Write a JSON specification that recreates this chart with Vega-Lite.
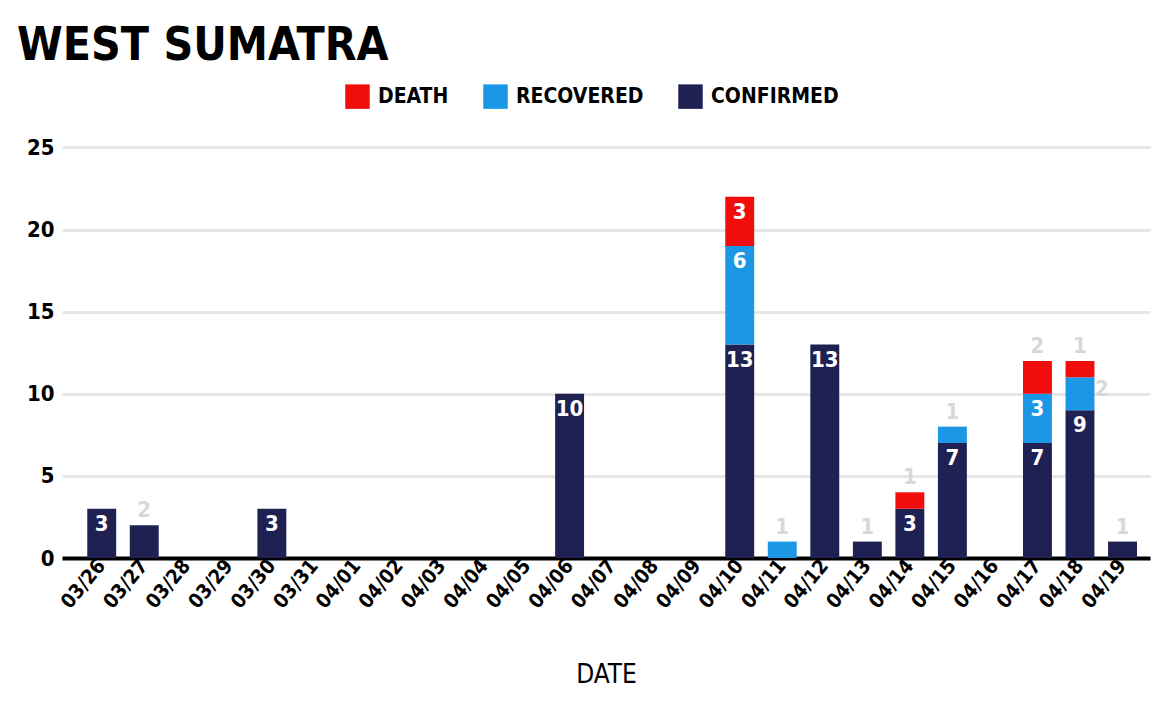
{
  "$schema": "https://vega.github.io/schema/vega-lite/v6.json",
  "width": 1088,
  "height": 427,
  "autosize": {"type": "none"},
  "padding": {"left": 62, "top": 131, "right": 2, "bottom": 148},
  "background": "white",
  "title": {
    "text": "WEST SUMATRA",
    "anchor": "start",
    "frame": "group",
    "font": "'DejaVu Sans Condensed', sans-serif",
    "fontSize": 46,
    "fontWeight": "bold",
    "color": "#000000",
    "dx": -45,
    "offset": 14
  },
  "data": {
    "values": [
      {"date": "03/26", "category": "CONFIRMED", "k": 1, "value": 3},
      {"date": "03/27", "category": "CONFIRMED", "k": 1, "value": 2},
      {"date": "03/30", "category": "CONFIRMED", "k": 1, "value": 3},
      {"date": "04/06", "category": "CONFIRMED", "k": 1, "value": 10},
      {"date": "04/10", "category": "CONFIRMED", "k": 1, "value": 13},
      {"date": "04/10", "category": "RECOVERED", "k": 2, "value": 6},
      {"date": "04/10", "category": "DEATH", "k": 3, "value": 3},
      {"date": "04/11", "category": "RECOVERED", "k": 2, "value": 1},
      {"date": "04/12", "category": "CONFIRMED", "k": 1, "value": 13},
      {"date": "04/13", "category": "CONFIRMED", "k": 1, "value": 1},
      {"date": "04/14", "category": "CONFIRMED", "k": 1, "value": 3},
      {"date": "04/14", "category": "DEATH", "k": 3, "value": 1},
      {"date": "04/15", "category": "CONFIRMED", "k": 1, "value": 7},
      {"date": "04/15", "category": "RECOVERED", "k": 2, "value": 1},
      {"date": "04/17", "category": "CONFIRMED", "k": 1, "value": 7},
      {"date": "04/17", "category": "RECOVERED", "k": 2, "value": 3},
      {"date": "04/17", "category": "DEATH", "k": 3, "value": 2},
      {"date": "04/18", "category": "CONFIRMED", "k": 1, "value": 9},
      {"date": "04/18", "category": "RECOVERED", "k": 2, "value": 2},
      {"date": "04/18", "category": "DEATH", "k": 3, "value": 1},
      {"date": "04/19", "category": "CONFIRMED", "k": 1, "value": 1}
    ]
  },
  "transform": [
    {"stack": "value", "groupby": ["date"], "sort": [{"field": "k", "order": "ascending"}], "as": ["y0", "y1"]}
  ],
  "encoding": {
    "x": {
      "field": "date",
      "type": "nominal",
      "scale": {
        "domain": ["03/26","03/27","03/28","03/29","03/30","03/31","04/01","04/02","04/03","04/04","04/05","04/06","04/07","04/08","04/09","04/10","04/11","04/12","04/13","04/14","04/15","04/16","04/17","04/18","04/19"],
        "paddingInner": 0.32,
        "paddingOuter": 0.45,
        "align": 0.66
      },
      "axis": {
        "title": "DATE",
        "titleFont": "'DejaVu Sans Condensed', sans-serif",
        "titleFontSize": 26,
        "titleFontWeight": "normal",
        "titleColor": "#000000",
        "titlePadding": 50,
        "labelAngle": -50,
        "labelFont": "'DejaVu Sans Condensed', sans-serif",
        "labelFontSize": 20,
        "labelFontWeight": "bold",
        "labelColor": "#000000",
        "labelPadding": 4,
        "ticks": false,
        "domainColor": "#000000",
        "domainWidth": 4
      }
    }
  },
  "layer": [
    {
      "mark": {"type": "bar"},
      "encoding": {
        "y": {
          "field": "y1",
          "type": "quantitative",
          "scale": {"domain": [0, 25]},
          "axis": {
            "title": null,
            "values": [0, 5, 10, 15, 20, 25],
            "labelFont": "'DejaVu Sans Condensed', sans-serif",
            "labelFontSize": 22,
            "labelFontWeight": "bold",
            "labelColor": "#000000",
            "labelPadding": 8,
            "ticks": false,
            "domain": false,
            "gridColor": "#e6e6e6",
            "gridWidth": 3
          }
        },
        "y2": {"field": "y0"},
        "color": {
          "field": "category",
          "type": "nominal",
          "scale": {
            "domain": ["DEATH", "RECOVERED", "CONFIRMED"],
            "range": ["#f20d0d", "#1b97e6", "#1f2152"]
          },
          "legend": {
            "title": null,
            "orient": "none",
            "direction": "horizontal",
            "legendX": 283,
            "legendY": -47,
            "symbolType": "square",
            "symbolSize": 600,
            "symbolStrokeWidth": 0,
            "labelFont": "'DejaVu Sans Condensed', sans-serif",
            "labelFontSize": 21,
            "labelFontWeight": "bold",
            "labelColor": "#000000",
            "labelOffset": 8,
            "columnPadding": 34
          }
        }
      }
    },
    {
      "transform": [{"filter": "datum.value >= 3"}],
      "mark": {
        "type": "text",
        "baseline": "top",
        "dy": 5,
        "color": "#ffffff",
        "font": "'DejaVu Sans Condensed', sans-serif",
        "fontSize": 22,
        "fontWeight": "bold"
      },
      "encoding": {
        "y": {"field": "y1", "type": "quantitative"},
        "text": {"field": "value", "type": "quantitative"}
      }
    },
    {
      "transform": [{"filter": "datum.value < 3 && !(datum.date == '04/18' && datum.category == 'RECOVERED')"}],
      "mark": {
        "type": "text",
        "baseline": "bottom",
        "dy": -3,
        "color": "#d8d8d8",
        "font": "'DejaVu Sans Condensed', sans-serif",
        "fontSize": 22,
        "fontWeight": "bold"
      },
      "encoding": {
        "y": {"field": "y1", "type": "quantitative"},
        "text": {"field": "value", "type": "quantitative"}
      }
    },
    {
      "transform": [{"filter": "datum.date == '04/18' && datum.category == 'RECOVERED'"}],
      "mark": {
        "type": "text",
        "baseline": "top",
        "align": "left",
        "dx": 15,
        "dy": 2,
        "color": "#d8d8d8",
        "font": "'DejaVu Sans Condensed', sans-serif",
        "fontSize": 22,
        "fontWeight": "bold"
      },
      "encoding": {
        "y": {"field": "y1", "type": "quantitative"},
        "text": {"field": "value", "type": "quantitative"}
      }
    }
  ],
  "config": {"view": {"stroke": null}}
}
